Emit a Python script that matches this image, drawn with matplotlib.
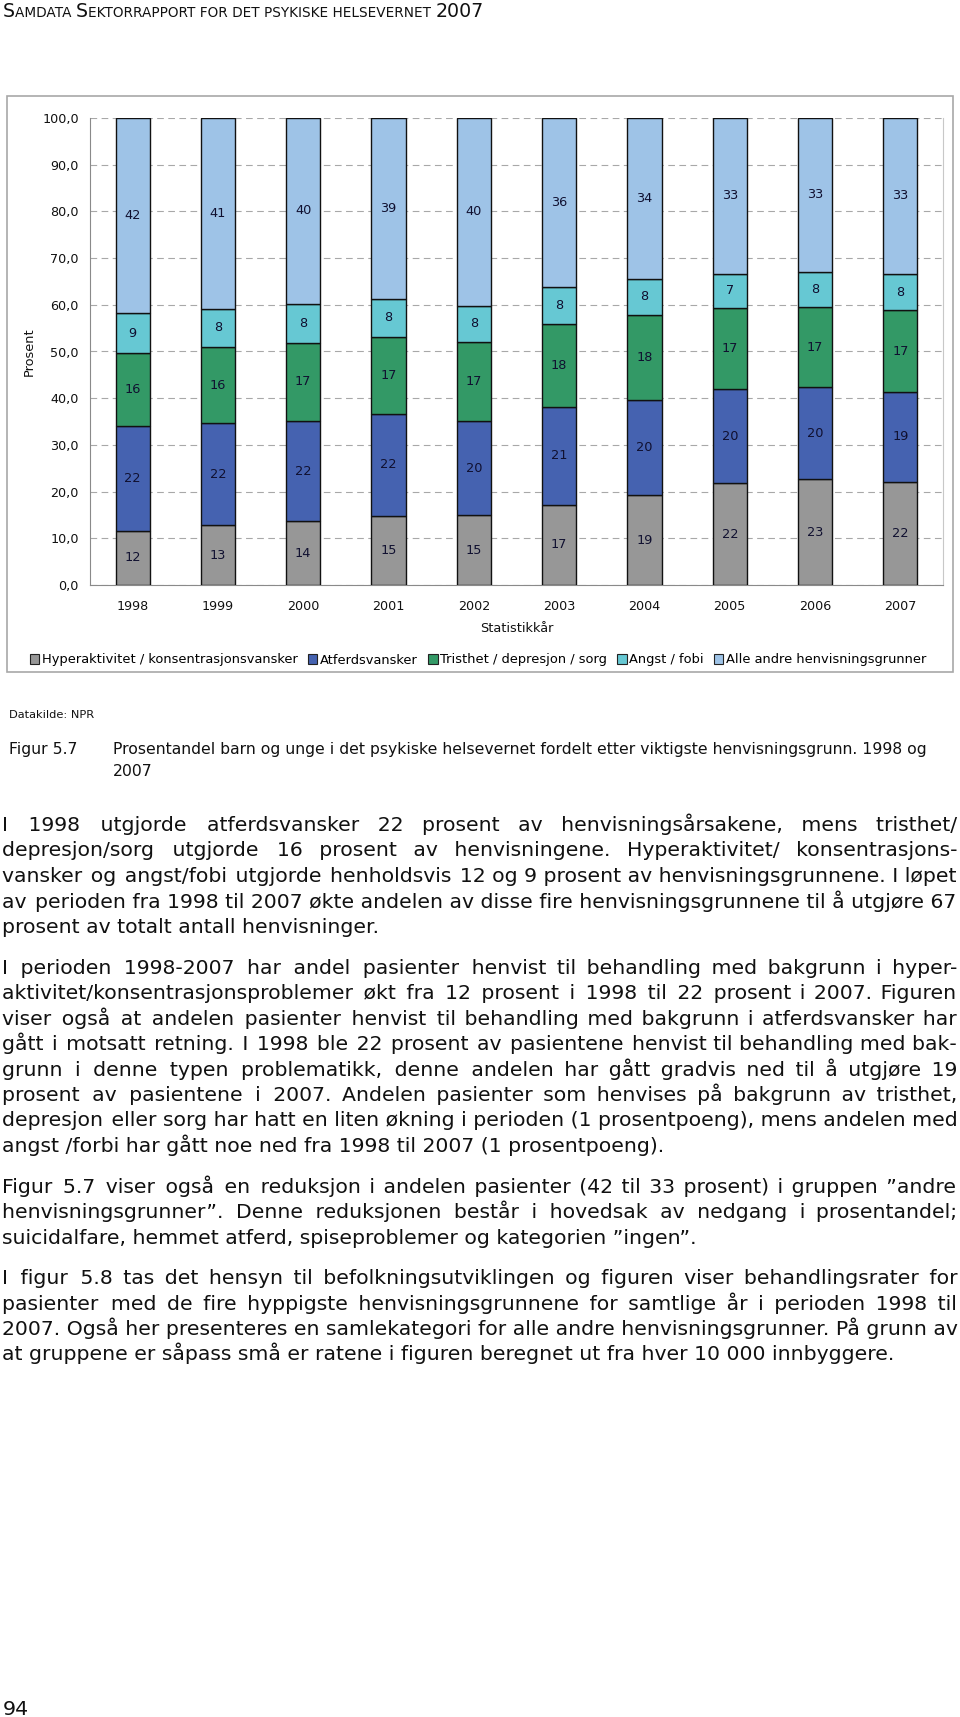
import matplotlib
matplotlib.use("Agg")
import matplotlib.pyplot as plt
from matplotlib.patches import Patch, Rectangle
from matplotlib.font_manager import FontProperties

# =========================
# DATA
# =========================
years = ["1998", "1999", "2000", "2001", "2002", "2003", "2004", "2005", "2006", "2007"]
hyper = [11.6, 12.8, 13.6, 14.8, 14.9, 17.2, 19.2, 21.8, 22.6, 22.1]
atferd = [22.4, 21.8, 21.6, 21.8, 20.3, 21.0, 20.4, 20.2, 19.7, 19.3]
trist = [15.6, 16.4, 16.7, 16.6, 16.9, 17.7, 18.3, 17.3, 17.2, 17.4]
angst = [8.6, 8.2, 8.3, 8.0, 7.7, 8.0, 7.7, 7.4, 7.6, 7.8]
andre = [41.8, 40.8, 39.8, 38.8, 40.2, 36.1, 34.4, 33.3, 32.9, 33.4]

series_names = ["Hyperaktivitet / konsentrasjonsvansker", "Atferdsvansker",
                "Tristhet / depresjon / sorg", "Angst / fobi", "Alle andre henvisningsgrunner"]
series_colors = ["#979797", "#4562b0", "#339966", "#66c8d3", "#9ec3e7"]
yticks = [0, 10, 20, 30, 40, 50, 60, 70, 80, 90, 100]

header_parts = [("S", True), ("AMDATA ", False), ("S", True),
                ("EKTORRAPPORT FOR DET PSYKISKE HELSEVERNET ", False), ("2007", True)]
source_text = "Datakilde: NPR"
fig_label = "Figur 5.7"
caption_lines = ["Prosentandel barn og unge i det psykiske helsevernet fordelt etter viktigste henvisningsgrunn. 1998 og",
                 "2007"]

paragraphs = [
    ["I 1998 utgjorde atferdsvansker 22 prosent av henvisningsårsakene, mens tristhet/",
     "depresjon/sorg utgjorde 16 prosent av henvisningene. Hyperaktivitet/ konsentrasjons-",
     "vansker og angst/fobi utgjorde henholdsvis 12 og 9 prosent av henvisningsgrunnene. I løpet",
     "av perioden fra 1998 til 2007 økte andelen av disse fire henvisningsgrunnene til å utgjøre 67",
     "prosent av totalt antall henvisninger."],
    ["I perioden 1998-2007 har andel pasienter henvist til behandling med bakgrunn i hyper-",
     "aktivitet/konsentrasjonsproblemer økt fra 12 prosent i 1998 til 22 prosent i 2007. Figuren",
     "viser også at andelen pasienter henvist til behandling med bakgrunn i atferdsvansker har",
     "gått i motsatt retning. I 1998 ble 22 prosent av pasientene henvist til behandling med bak-",
     "grunn i denne typen problematikk, denne andelen har gått gradvis ned til å utgjøre 19",
     "prosent av pasientene i 2007. Andelen pasienter som henvises på bakgrunn av tristhet,",
     "depresjon eller sorg har hatt en liten økning i perioden (1 prosentpoeng), mens andelen med",
     "angst /forbi har gått noe ned fra 1998 til 2007 (1 prosentpoeng)."],
    ["Figur 5.7 viser også en reduksjon i andelen pasienter (42 til 33 prosent) i gruppen \u201dandre",
     "henvisningsgrunner\u201d. Denne reduksjonen består i hovedsak av nedgang i prosentandel;",
     "suicidalfare, hemmet atferd, spiseproblemer og kategorien \u201dingen\u201d."],
    ["I figur 5.8 tas det hensyn til befolkningsutviklingen og figuren viser behandlingsrater for",
     "pasienter med de fire hyppigste henvisningsgrunnene for samtlige år i perioden 1998 til",
     "2007. Også her presenteres en samlekategori for alle andre henvisningsgrunner. På grunn av",
     "at gruppene er såpass små er ratene i figuren beregnet ut fra hver 10 000 innbyggere."],
]
page_number = "94"

# =========================
# FIGURE
# =========================
W, H = 960, 1717
plt.rcParams['font.family'] = ['DejaVu Sans']
fig = plt.figure(figsize=(W / 100, H / 100), dpi=100)
renderer = fig.canvas.get_renderer()


def fx(x):
    return x / W


def fy(y):
    return 1 - y / H


def text_w(s, size):
    w, h, d = renderer.get_text_width_height_descent(s, FontProperties(family='DejaVu Sans', size=size), ismath=False)
    return w


def fit_size(s, width, base=10):
    return base * width / text_w(s, base)


# header in small caps
big, small = 13.0, 9.3
total = sum(text_w(p, big if b else small) for p, b in header_parts)
k = 480 / total
x = 3
for p, b in header_parts:
    sz = (big if b else small) * k
    fig.text(fx(x), fy(16.7), p, fontsize=sz, va='baseline', ha='left', color='#111111')
    x += text_w(p, sz)

# chart frame
fig.add_artist(Rectangle((fx(7), fy(672)), fx(953) - fx(7), fy(96) - fy(672), transform=fig.transFigure,
                         fill=False, edgecolor='#a8a8a8', lw=1.2))

ax = fig.add_axes([fx(90), fy(585), fx(943) - fx(90), fy(118) - fy(585)])
xs = range(len(years))
bottom = [0.0] * len(years)
for vals, col in zip([hyper, atferd, trist, angst, andre], series_colors):
    ax.bar(xs, vals, 0.4, bottom=bottom, color=col, edgecolor='#111111', lw=1.0, zorder=3)
    for i, v in enumerate(vals):
        ax.text(i, bottom[i] + v / 2, f"{v:.0f}", ha='center', va='center', fontsize=9.3,
                color='#101030', zorder=4)
    bottom = [b + v for b, v in zip(bottom, vals)]

ax.set_xlim(-0.5, len(years) - 0.5)
ax.set_ylim(0, 100)
ax.set_yticks(yticks)
ax.set_yticklabels([f"{v:.1f}".replace('.', ',') for v in yticks])
ax.set_xticks(list(xs))
ax.set_xticklabels(years)
ax.tick_params(axis='y', length=0, pad=8, labelsize=9.2, labelcolor='#111111')
ax.tick_params(axis='x', length=0, pad=11, labelsize=9.2, labelcolor='#111111')
ax.yaxis.grid(True, linestyle=(0, (6, 4)), color='#a8a8a8', lw=0.8, zorder=0)
ax.set_axisbelow(True)
ax.spines['top'].set_visible(False)
ax.spines['left'].set_color('#8a8a8a')
ax.spines['bottom'].set_color('#8a8a8a')
ax.spines['right'].set_color('#c8c8c8')

fig.text(fx(516.5), fy(628), "Statistikkår", ha='center', va='center', fontsize=9.3, color='#111111')
fig.text(fx(29), fy(352), "Prosent", ha='center', va='center', rotation=90, fontsize=9.3, color='#111111')

handles = [Patch(facecolor=c, edgecolor='#222222', lw=0.8) for c in series_colors]
fig.legend(handles, series_names, loc='center', bbox_to_anchor=(fx(478), fy(660)), ncol=5,
           frameon=False, fontsize=9.4, handlelength=0.75, handleheight=0.75, handletextpad=0.2,
           columnspacing=0.75, borderaxespad=0, borderpad=0)

# source and caption
fig.text(fx(9), fy(718), source_text, fontsize=fit_size(source_text, 85), va='baseline', color='#111111')
cap_size = fit_size(caption_lines[0], 808)
fig.text(fx(9), fy(754), fig_label, fontsize=cap_size, va='baseline', color='#111111')
for i, line in enumerate(caption_lines):
    fig.text(fx(113), fy(754 + 22 * i), line, fontsize=cap_size, va='baseline', color='#111111')

# body text, justified by padding the gaps with hair spaces (one text per line)
body_size = 10 * 952 / max(text_w(l, 10) for p in paragraphs for l in p[:-1])
hair = '\u200a'
hair_w = (text_w('a' + hair * 20 + 'b', body_size) - text_w('ab', body_size)) / 20
left, right = 2, 957
step, para_gap = 25.5, 40.5
y = 831
for p in paragraphs:
    for i, line in enumerate(p):
        words = line.split(' ')
        s = line
        if i < len(p) - 1 and len(words) > 1:
            n_gaps = len(words) - 1
            n_hair = max(0, round((right - left - text_w(line, body_size)) / hair_w))
            base, rem = divmod(n_hair, n_gaps)
            s = words[0]
            for j, w in enumerate(words[1:]):
                s += ' ' + hair * (base + (1 if j < rem else 0)) + w
        fig.text(fx(left), fy(y), s, fontsize=body_size, va='baseline', color='#111111')
        if i < len(p) - 1:
            y += step
    y += para_gap

fig.text(fx(3), fy(1715), page_number, fontsize=fit_size(page_number, 26), va='baseline', color='#111111')

fig.savefig("out.png", dpi=100)
